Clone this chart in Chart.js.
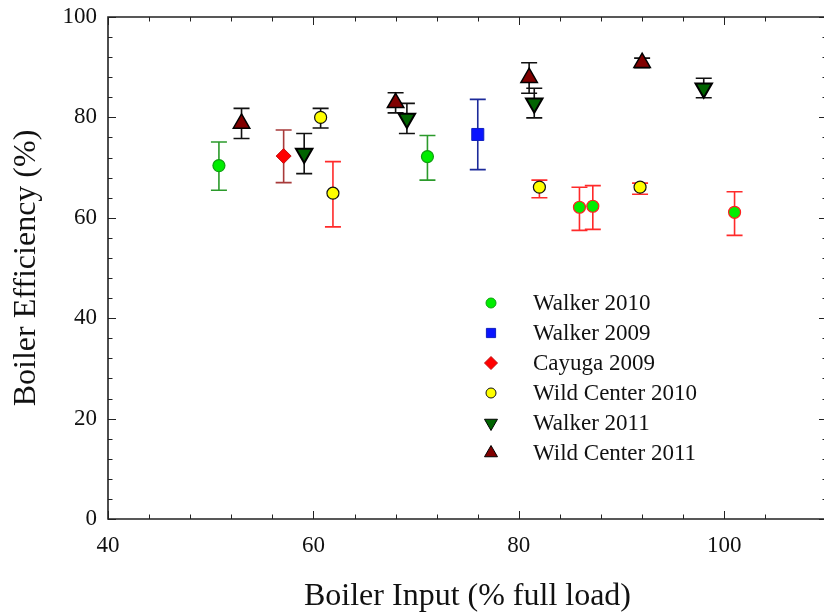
<!DOCTYPE html>
<html>
<head>
<meta charset="utf-8">
<script src="https://cdn.jsdelivr.net/npm/chart.js@4/dist/chart.umd.min.js"></script>
<style>
  html, body { margin: 0; padding: 0; background: #fff; }
  #wrap { width: 824px; height: 613px; }
</style>
</head>
<body>
<div id="wrap"><canvas id="c" width="824" height="613"></canvas></div>
<script>
// ---- data ----
const seriesNames = ['Walker 2010', 'Walker 2009', 'Cayuga 2009', 'Wild Center 2010', 'Walker 2011', 'Wild Center 2011'];

const walker2010X  = [50.8, 71.1, 85.9, 87.2, 101.0];
const walker2010Y  = [70.4, 72.2, 62.1, 62.3, 61.1];
const walker2010Lo = [65.5, 67.5, 57.5, 57.7, 56.5];
const walker2010Hi = [75.1, 76.4, 66.1, 66.4, 65.2];

const walker2009X  = [76.0];
const walker2009Y  = [76.6];
const walker2009Lo = [69.6];
const walker2009Hi = [83.6];

const cayuga2009X  = [57.1];
const cayuga2009Y  = [72.3];
const cayuga2009Lo = [67.0];
const cayuga2009Hi = [77.5];

const wild2010X  = [60.7, 61.9, 82.0, 91.8];
const wild2010Y  = [80.0, 64.9, 66.1, 66.1];
const wild2010Lo = [77.9, 58.2, 64.0, 64.7];
const wild2010Hi = [81.8, 71.2, 67.5, 66.9];

const walker2011X  = [59.1, 69.1, 81.5, 98.0];
const walker2011Y  = [72.8, 79.8, 82.8, 85.8];
const walker2011Lo = [68.8, 76.8, 79.9, 83.9];
const walker2011Hi = [76.8, 82.8, 85.8, 87.8];

const wild2011X  = [53.0, 68.0, 81.0, 92.0];
const wild2011Y  = [78.8, 82.9, 87.9, 90.9];
const wild2011Lo = [75.8, 80.9, 84.8, 89.9];
const wild2011Hi = [81.8, 84.9, 90.9, 91.8];

const xTickLabels = [40, 60, 80, 100];
const yTickLabels = [0, 20, 40, 60, 80, 100];

// ---- styles ----
const GREEN_BAR = '#2b9a2b', RED_BAR = '#ff2a2a', BLACK_BAR = '#111111';
const walker2010BarColors = [GREEN_BAR, GREEN_BAR, RED_BAR, RED_BAR, RED_BAR];
const walker2010Borders   = ['#10a010', '#10a010', '#ff2020', '#ff2020', '#ff2020'];
const walker2009BarColors = ['#1c2a9a'];
const cayuga2009BarColors = ['#a83a3a'];
const wild2010BarColors   = [BLACK_BAR, RED_BAR, RED_BAR, RED_BAR];
const walker2011BarColors = [BLACK_BAR, BLACK_BAR, BLACK_BAR, BLACK_BAR];
const wild2011BarColors   = [BLACK_BAR, BLACK_BAR, BLACK_BAR, BLACK_BAR];

function pts(xs, ys, lo, hi) {
  return xs.map((x, i) => ({ x: x, y: ys[i], lo: lo[i], hi: hi[i] }));
}

const datasets = [
  { label: seriesNames[0], data: pts(walker2010X, walker2010Y, walker2010Lo, walker2010Hi),
    pointStyle: 'circle', pointRadius: 6, backgroundColor: '#00ee00', borderColor: walker2010Borders, borderWidth: 1.2,
    errColors: walker2010BarColors, legendBorder: '#10a010', legendRadius: 5 },
  { label: seriesNames[1], data: pts(walker2009X, walker2009Y, walker2009Lo, walker2009Hi),
    pointStyle: 'rect', pointRadius: 8.5, backgroundColor: '#0a14ff', borderColor: '#1020c0', borderWidth: 1,
    errColors: walker2009BarColors, legendBorder: '#1020c0', legendRadius: 6.5 },
  { label: seriesNames[2], data: pts(cayuga2009X, cayuga2009Y, cayuga2009Lo, cayuga2009Hi),
    pointStyle: 'rectRot', pointRadius: 7.5, backgroundColor: '#ff0000', borderColor: '#c01010', borderWidth: 1,
    errColors: cayuga2009BarColors, legendBorder: '#c01010', legendRadius: 6.5 },
  { label: seriesNames[3], data: pts(wild2010X, wild2010Y, wild2010Lo, wild2010Hi),
    pointStyle: 'circle', pointRadius: 6, backgroundColor: '#ffff00', borderColor: '#111111', borderWidth: 1.2,
    errColors: wild2010BarColors, legendBorder: '#111111', legendRadius: 5 },
  { label: seriesNames[4], data: pts(walker2011X, walker2011Y, walker2011Lo, walker2011Hi),
    pointStyle: 'triangle', rotation: 180, pointRadius: 9.5, backgroundColor: '#006400', borderColor: '#000000', borderWidth: 2,
    errColors: walker2011BarColors, legendBorder: '#000000', legendRadius: 7.5 },
  { label: seriesNames[5], data: pts(wild2011X, wild2011Y, wild2011Lo, wild2011Hi),
    pointStyle: 'triangle', rotation: 0, pointRadius: 9.5, backgroundColor: '#800000', borderColor: '#000000', borderWidth: 1.5,
    errColors: wild2011BarColors, legendBorder: '#000000', legendRadius: 7.5 }
];
datasets.forEach(d => { d.showLine = false; d.pointHoverRadius = d.pointRadius; d.pointRotation = d.rotation || 0; });

const FONT = "'Liberation Serif', 'Times New Roman', serif";
const PLOT_RIGHT = 827; // right frame sits just past the canvas edge, as in the reference

const stretchArea = {
  id: 'stretchArea',
  afterLayout(chart) {
    const xs = chart.scales.x;
    chart.chartArea.right = PLOT_RIGHT;
    chart.chartArea.width = PLOT_RIGHT - chart.chartArea.left;
    xs.right = PLOT_RIGHT;
    xs.width = PLOT_RIGHT - xs.left;
    xs.configure();
    xs._labelItems = null;
  }
};

const errorBars = {
  id: 'errorBars',
  beforeDatasetsDraw(chart) {
    const ctx = chart.ctx, xs = chart.scales.x, ys = chart.scales.y;
    ctx.save();
    ctx.lineWidth = 1.6;
    chart.data.datasets.forEach(ds => {
      ds.data.forEach((p, i) => {
        const px = xs.getPixelForValue(p.x);
        const yl = ys.getPixelForValue(p.lo), yh = ys.getPixelForValue(p.hi);
        ctx.strokeStyle = ds.errColors[i];
        ctx.beginPath();
        ctx.moveTo(px, yl); ctx.lineTo(px, yh);
        ctx.moveTo(px - 8, yl); ctx.lineTo(px + 8, yl);
        ctx.moveTo(px - 8, yh); ctx.lineTo(px + 8, yh);
        ctx.stroke();
      });
    });
    ctx.restore();
  }
};

function drawMarker(ctx, style, x, y, r, rot) {
  if (Chart.helpers && Chart.helpers.drawPoint) {
    Chart.helpers.drawPoint(ctx, { pointStyle: style, radius: r, rotation: rot || 0, borderWidth: ctx.lineWidth }, x, y);
    return;
  }
  ctx.beginPath();
  ctx.arc(x, y, r, 0, Math.PI * 2);
  ctx.fill(); ctx.stroke();
}

const frameAndLegend = {
  id: 'frameAndLegend',
  afterDraw(chart) {
    const ctx = chart.ctx, a = chart.chartArea, xs = chart.scales.x, ys = chart.scales.y;
    ctx.save();
    // frame
    ctx.strokeStyle = '#222';
    ctx.lineWidth = 1.6;
    ctx.beginPath();
    ctx.moveTo(a.right, a.top); ctx.lineTo(a.left, a.top); ctx.lineTo(a.left, a.bottom); ctx.lineTo(a.right, a.bottom); ctx.lineTo(a.right, a.top);
    ctx.stroke();
    // inward ticks on all sides
    ctx.lineWidth = 1;
    ctx.beginPath();
    xs.ticks.forEach(t => {
      const px = Math.round(xs.getPixelForValue(t.value)) + 0.5;
      const len = xTickLabels.includes(t.value) ? 8 : 4.5;
      ctx.moveTo(px, a.bottom); ctx.lineTo(px, a.bottom - len);
      ctx.moveTo(px, a.top); ctx.lineTo(px, a.top + len);
    });
    ys.ticks.forEach(t => {
      const py = Math.round(ys.getPixelForValue(t.value)) + 0.5;
      const len = yTickLabels.includes(t.value) ? 8 : 4.5;
      ctx.moveTo(a.left, py); ctx.lineTo(a.left + len, py);
      ctx.moveTo(a.right, py); ctx.lineTo(a.right - len, py);
    });
    ctx.stroke();
    // legend
    const lx = 491, tx = 533, y0 = 303, dy = 30;
    ctx.font = '23px ' + FONT;
    ctx.textBaseline = 'middle';
    ctx.textAlign = 'left';
    chart.data.datasets.forEach((ds, i) => {
      const y = y0 + i * dy;
      ctx.fillStyle = ds.backgroundColor;
      ctx.strokeStyle = ds.legendBorder;
      ctx.lineWidth = 1;
      drawMarker(ctx, ds.pointStyle, lx, y, ds.legendRadius, ds.rotation || 0);
      ctx.fillStyle = '#111';
      ctx.fillText(ds.label, tx, y + 1);
    });
    ctx.restore();
  }
};

function zeroPad(s) { s.paddingTop = 0; s.paddingBottom = 0; s.paddingLeft = 0; s.paddingRight = 0; }

Chart.defaults.font.family = FONT;
Chart.defaults.color = '#111';

new Chart(document.getElementById('c'), {
  type: 'scatter',
  data: { datasets: datasets },
  options: {
    responsive: false,
    animation: false,
    events: [],
    layout: { padding: { top: 17, right: 0, left: 0, bottom: 0 } },
    plugins: { legend: { display: false }, tooltip: { enabled: false } },
    elements: { point: { hitRadius: 0 } },
    scales: {
      x: {
        type: 'linear', min: 40, max: 110,
        grid: { display: false, drawTicks: false },
        border: { display: false },
        ticks: {
          stepSize: 4, autoSkip: false, maxRotation: 0, padding: 13,
          font: { size: 23 }, color: '#111',
          callback: v => xTickLabels.includes(v) ? String(v) : ''
        },
        title: { display: true, text: 'Boiler Input (% full load)', font: { size: 32 }, color: '#111', padding: { top: 0, bottom: -3 } },
        afterFit: s => { s.height = 94; zeroPad(s); }
      },
      y: {
        type: 'linear', min: 0, max: 100,
        grid: { display: false, drawTicks: false },
        border: { display: false },
        ticks: {
          stepSize: 4, autoSkip: false, padding: 11,
          font: { size: 23 }, color: '#111',
          callback: v => yTickLabels.includes(v) ? String(v) : ''
        },
        title: { display: true, text: 'Boiler Efficiency (%)', font: { size: 32 }, color: '#111', padding: { top: 7, bottom: 0 } },
        afterFit: s => { s.width = 108; zeroPad(s); }
      }
    }
  },
  plugins: [stretchArea, errorBars, frameAndLegend]
});
</script>
</body>
</html>
